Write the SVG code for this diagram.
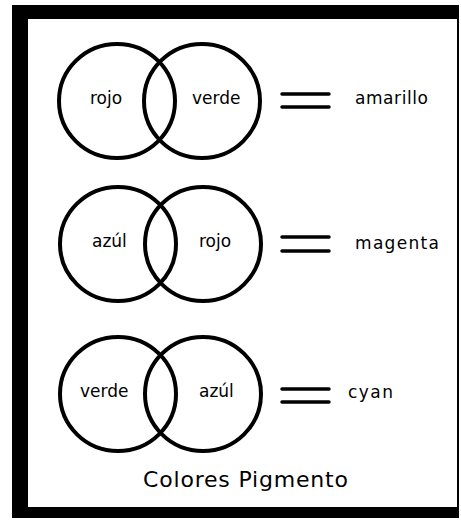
<svg xmlns="http://www.w3.org/2000/svg" width="461" height="530" viewBox="0 0 461 530">
<style>
.c{fill:none;stroke:#000;stroke-width:4}
.t{font-family:"DejaVu Sans","Liberation Sans",sans-serif;font-size:17px;fill:#000}
.eq{stroke:#000;stroke-width:3.5;stroke-linecap:round}
.ti{font-family:"DejaVu Sans","Liberation Sans",sans-serif;font-size:22px;fill:#000}
</style>
<rect x="0" y="0" width="461" height="530" fill="#fff"/>
<g id="frame">
<path d="M12 5H459V518H12Z M28 19V507H457V19Z" fill="#000" fill-rule="evenodd"/>
</g>
<g id="row1">
<ellipse class="c" cx="117" cy="101" rx="58" ry="57"/>
<ellipse class="c" cx="202" cy="101" rx="58" ry="57"/>
<text class="t" x="90" y="104">rojo</text>
<text class="t" x="192" y="104">verde</text>
</g>
<g id="row2">
<ellipse class="c" cx="118" cy="244" rx="58" ry="57"/>
<ellipse class="c" cx="203" cy="244" rx="58" ry="57"/>
<text class="t" x="92" y="247">azúl</text>
<text class="t" x="199" y="247">rojo</text>
</g>
<g id="row3">
<ellipse class="c" cx="118" cy="394" rx="58" ry="57"/>
<ellipse class="c" cx="203" cy="394" rx="58" ry="57"/>
<text class="t" x="80" y="397">verde</text>
<text class="t" x="199" y="397">azúl</text>
</g>
<g id="connectors">
<line class="eq" x1="282" y1="94" x2="329" y2="94"/>
<line class="eq" x1="282" y1="107" x2="329" y2="107"/>
<line class="eq" x1="282" y1="237" x2="329" y2="237"/>
<line class="eq" x1="282" y1="251" x2="329" y2="251"/>
<line class="eq" x1="282" y1="389" x2="329" y2="389"/>
<line class="eq" x1="282" y1="402" x2="329" y2="402"/>
</g>
<g id="results">
<text class="t" x="355" y="104" textLength="73">amarillo</text>
<text class="t" x="355" y="249" textLength="84">magenta</text>
<text class="t" x="348" y="398" textLength="45">cyan</text>
</g>
<g id="title">
<text class="ti" x="143" y="487" textLength="205">Colores Pigmento</text>
</g>
</svg>
